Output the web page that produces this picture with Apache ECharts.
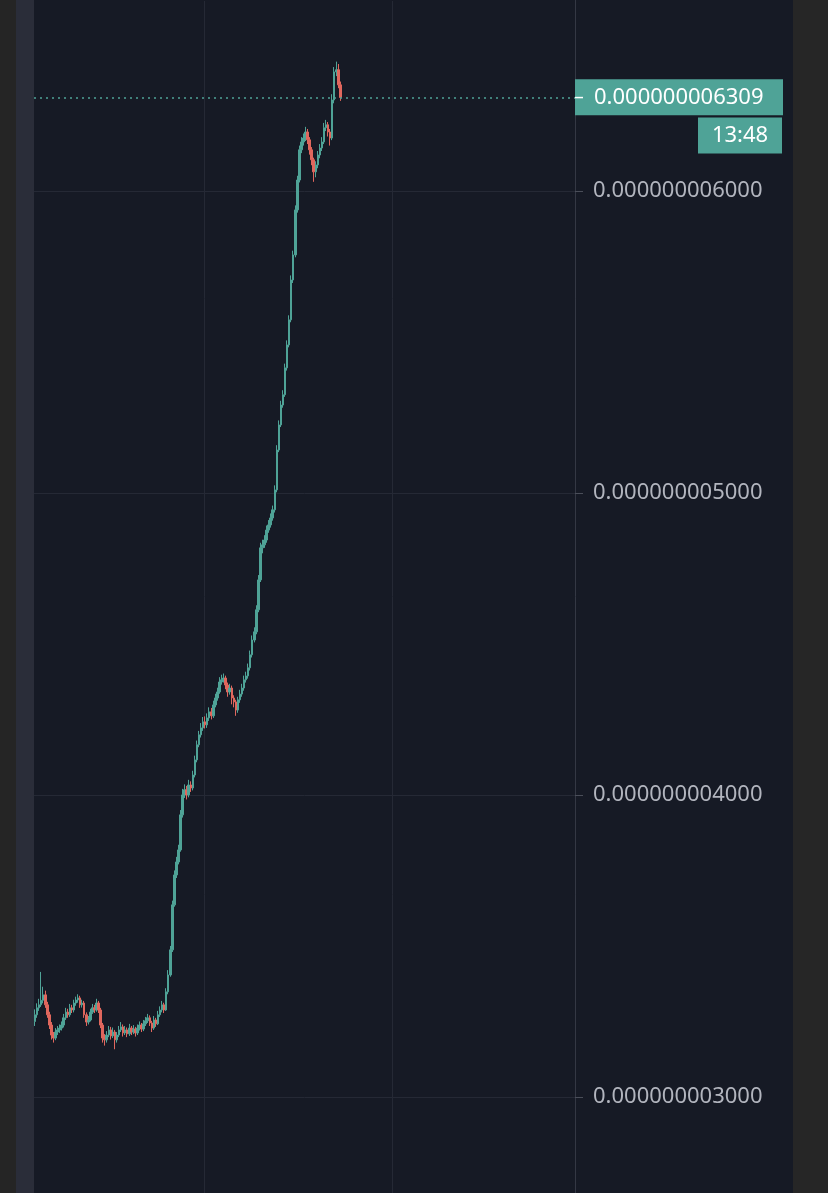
<!DOCTYPE html>
<html>
<head>
<meta charset="utf-8">
<script src="https://cdn.jsdelivr.net/npm/echarts@6/dist/echarts.min.js"></script>
<style>html,body{margin:0;padding:0;background:#161a25;}#c{width:828px;height:1193px;}</style>
</head>
<body>
<div id="c"></div>
<script>
// price unit: 1e-9
const UNIT = 1e-9;
const FIRST_OPEN = 3.250;
const closes = [3.272,3.295,3.305,3.320,3.338,3.305,3.272,3.238,3.205,3.195,
3.215,3.222,3.228,3.238,3.262,3.281,3.272,3.295,3.288,3.311,
3.321,3.328,3.305,3.311,3.272,3.248,3.255,3.281,3.295,3.288,
3.311,3.288,3.238,3.195,3.189,3.205,3.222,3.202,3.215,3.189,
3.205,3.222,3.232,3.212,3.222,3.209,3.228,3.215,3.225,3.212,
3.228,3.238,3.225,3.242,3.252,3.262,3.245,3.228,3.255,3.242,
3.272,3.288,3.305,3.288,3.348,3.404,3.487,3.636,3.735,3.778,
3.818,3.934,4.000,4.017,4.000,4.033,4.023,4.066,4.116,4.166,
4.199,4.222,4.242,4.232,4.255,4.275,4.262,4.298,4.321,4.341,
4.374,4.381,4.387,4.364,4.341,4.354,4.321,4.308,4.281,4.315,
4.334,4.354,4.381,4.394,4.421,4.464,4.513,4.540,4.613,4.712,
4.818,4.828,4.844,4.877,4.894,4.917,4.944,5.010,5.142,5.225,
5.291,5.325,5.414,5.490,5.573,5.705,5.788,5.937,6.036,6.136,
6.162,6.175,6.195,6.169,6.136,6.103,6.063,6.086,6.119,6.142,
6.162,6.209,6.219,6.195,6.175,6.301,6.394,6.401,6.351,6.309];
const highs = [3.290,3.310,3.325,3.414,3.365,3.352,3.315,3.282,3.248,3.215,
3.228,3.235,3.240,3.250,3.275,3.295,3.292,3.308,3.305,3.322,
3.332,3.340,3.335,3.322,3.318,3.280,3.268,3.292,3.308,3.305,
3.325,3.318,3.295,3.245,3.208,3.218,3.235,3.232,3.230,3.222,
3.215,3.235,3.248,3.240,3.235,3.230,3.242,3.235,3.238,3.232,
3.240,3.250,3.245,3.255,3.265,3.275,3.270,3.252,3.268,3.262,
3.285,3.300,3.318,3.312,3.360,3.420,3.500,3.650,3.750,3.795,
3.835,3.950,4.020,4.035,4.030,4.050,4.045,4.080,4.130,4.180,
4.212,4.238,4.258,4.260,4.270,4.290,4.288,4.312,4.335,4.355,
4.390,4.398,4.402,4.395,4.372,4.368,4.362,4.330,4.315,4.325,
4.348,4.368,4.395,4.408,4.435,4.478,4.528,4.555,4.628,4.728,
4.835,4.845,4.860,4.892,4.910,4.932,4.958,5.025,5.158,5.240,
5.305,5.340,5.428,5.505,5.588,5.720,5.802,5.952,6.050,6.150,
6.178,6.190,6.212,6.205,6.178,6.145,6.110,6.098,6.132,6.155,
6.178,6.225,6.235,6.228,6.205,6.320,6.410,6.428,6.420,6.362];
const lows = [3.235,3.262,3.285,3.298,3.310,3.295,3.262,3.225,3.190,3.180,
3.188,3.205,3.212,3.220,3.230,3.255,3.262,3.265,3.278,3.280,
3.302,3.312,3.295,3.296,3.262,3.235,3.240,3.250,3.275,3.278,
3.282,3.278,3.228,3.180,3.170,3.180,3.198,3.190,3.195,3.158,
3.180,3.198,3.215,3.200,3.205,3.198,3.202,3.205,3.208,3.200,
3.205,3.220,3.215,3.218,3.235,3.245,3.235,3.215,3.222,3.232,
3.238,3.265,3.280,3.278,3.285,3.340,3.398,3.480,3.630,3.725,
3.770,3.812,3.925,3.990,3.985,3.992,4.010,4.015,4.058,4.108,
4.158,4.190,4.212,4.220,4.222,4.245,4.250,4.255,4.290,4.312,
4.335,4.365,4.372,4.350,4.325,4.332,4.300,4.290,4.262,4.272,
4.305,4.325,4.345,4.372,4.385,4.412,4.455,4.505,4.532,4.605,
4.705,4.800,4.818,4.835,4.868,4.885,4.908,4.935,5.002,5.135,
5.218,5.282,5.318,5.405,5.482,5.565,5.695,5.780,5.928,6.028,
6.125,6.150,6.165,6.155,6.120,6.085,6.030,6.045,6.075,6.108,
6.132,6.155,6.198,6.180,6.150,6.168,6.290,6.380,6.340,6.298];
const yTicks = [3, 4, 5, 6];
const Y_MIN = 2.682, Y_MAX = 6.632;   // visible price range
const LAST_TIME = '13:48';
const TOTAL_SLOTS = 264;          // candle slots incl. empty future space
const vLineSlots = [83, 175];     // vertical grid line positions (slot index)

const GREEN = '#4fa397', RED = '#e0675d', BG = '#161a25';

const [lh, lm] = LAST_TIME.split(':').map(Number);
const startMin = lh * 60 + lm - (closes.length - 1);
const categories = [];
for (let i = 0; i < TOTAL_SLOTS; i++) {
  const t = startMin + i;
  categories.push(String(Math.floor(t / 60) % 24).padStart(2, '0') + ':' + String(t % 60).padStart(2, '0'));
}
const ohlc = closes.map((c, i) => [i === 0 ? FIRST_OPEN : closes[i - 1], c, lows[i], highs[i]]);
const last = closes[closes.length - 1];
const fmt = v => (v * UNIT).toFixed(12);
const isTick = v => yTicks.some(t => Math.abs(t - v) < 1e-6);

const chart = echarts.init(document.getElementById('c'), null, { renderer: 'canvas' });
const strips = [
  { type: 'rect', left: 0, top: 0, shape: { width: 16, height: 1193 }, style: { fill: '#252525' } },
  { type: 'rect', left: 16, top: 0, shape: { width: 18, height: 1193 }, style: { fill: '#2a2d39' } },
  { type: 'rect', left: 793, top: 0, shape: { width: 35, height: 1193 }, style: { fill: '#262626' } },
  // hide the range-edge grid line / tick at the very top
  { type: 'rect', shape: { x: 34, y: 0, width: 541, height: 1 }, style: { fill: BG }, z: 10 },
  { type: 'rect', shape: { x: 576, y: 0, width: 9, height: 1 }, style: { fill: BG }, z: 10 }
];
const option = {
  animation: false,
  backgroundColor: BG,
  grid: { left: 34, right: 253, top: 0, bottom: 0, containLabel: false },
  xAxis: {
    type: 'category', data: categories, boundaryGap: true,
    axisLine: { show: false }, axisTick: { show: false }, axisLabel: { show: false },
    splitLine: { show: true, interval: (idx) => vLineSlots.includes(idx), lineStyle: { color: '#252935', width: 1 } }
  },
  yAxis: {
    type: 'value', position: 'right', min: Y_MIN, max: Y_MAX, splitNumber: 4, minInterval: 1, maxInterval: 1,
    axisLine: { show: true, lineStyle: { color: '#343844', width: 1 } },
    axisTick: { show: true, length: 8, lineStyle: { color: '#4a4e59' } },
    axisLabel: { margin: 18, color: '#b2b5be', fontFamily: 'Noto Sans', fontSize: 22,
      showMinLabel: false, showMaxLabel: false, formatter: v => isTick(v) ? fmt(v) : '' },
    splitLine: { show: true, lineStyle: { color: '#252935', width: 1 } }
  },
  series: [{
    type: 'candlestick',
    data: ohlc,
    barWidth: 2,
    itemStyle: { color: GREEN, color0: RED, borderColor: GREEN, borderColor0: RED, borderWidth: 1 },
    markLine: {
      silent: true, symbol: ['none', 'none'],
      data: [{ yAxis: last }],
      lineStyle: { type: [2, 4], color: GREEN, width: 1.5 },
      label: {
        show: true, position: 'end', distance: 0, formatter: () => fmt(last),
        backgroundColor: GREEN, color: '#ffffff', fontFamily: 'Noto Sans', fontSize: 22, lineHeight: 24,
        padding: [6, 19, 6, 19], width: 170, align: 'left'
      }
    }
  }],
  graphic: strips
};
chart.setOption(option);
const py = chart.convertToPixel({ yAxisIndex: 0 }, last);
chart.setOption({
  graphic: strips.concat([
    { type: 'line', shape: { x1: 575, y1: py, x2: 583, y2: py }, style: { stroke: '#ffffff', lineWidth: 1.5 }, z: 20 },
    { type: 'rect', shape: { x: 698, y: py + 20, width: 84, height: 36 }, style: { fill: GREEN } },
    { type: 'text', x: 740, y: py + 38, style: { text: LAST_TIME, fill: '#ffffff', font: '22px "Noto Sans"', align: 'center', verticalAlign: 'middle' } }
  ])
});
</script>
</body>
</html>
